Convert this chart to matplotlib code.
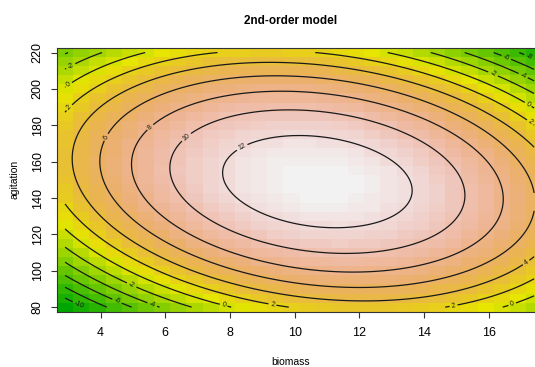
import colorsys
import numpy as np
import matplotlib
matplotlib.use("Agg")
import matplotlib.pyplot as plt
from matplotlib.colors import ListedColormap

plt.rcParams['font.family'] = ['Liberation Sans', 'DejaVu Sans']

# 2nd-order model: z = b0 + b1*x + b2*y + b11*x^2 + b22*y^2 + b12*x*y
b0 = -68.5
b1 = 4.763
b2 = 0.7573
b11 = -0.17
b22 = -0.00227
b12 = -0.00755

# grid of the image (cell centres)
biomass = np.arange(2.9, 17.45, 0.5)
agitation = np.arange(80, 221, 5)

levels = [-10, -8, -6, -4, -2, 0, 2, 4, 6, 8, 10, 12]
xticks = [4, 6, 8, 10, 12, 14, 16]
yticks = [80, 100, 120, 140, 160, 180, 200, 220]


def model(x, y):
    return b0 + b1 * x + b2 * y + b11 * x ** 2 + b22 * y ** 2 + b12 * x * y


def terrain_colors(n):
    # same recipe as R's terrain.colors()
    k = n // 2
    cols = []
    h1, s1, v1 = np.linspace(4 / 12, 2 / 12, k), np.linspace(1, 1, k), np.linspace(0.65, 0.9, k)
    h2 = np.linspace(2 / 12, 0, n - k + 1)[1:]
    s2 = np.linspace(1, 0, n - k + 1)[1:]
    v2 = np.linspace(0.9, 0.95, n - k + 1)[1:]
    for h, s, v in zip(np.r_[h1, h2], np.r_[s1, s2], np.r_[v1, v2]):
        cols.append(colorsys.hsv_to_rgb(h, s, v))
    return ListedColormap(cols)


X, Y = np.meshgrid(biomass, agitation)
Z = model(X, Y)

fig = plt.figure(figsize=(5.35, 3.67), dpi=100)
ax = fig.add_axes([0.1065, 0.1507, 0.907, 0.7185])

dx = 0.25
dy = 2.5
xe = np.r_[biomass - dx, biomass[-1] + dx]
ye = np.r_[agitation - dy, agitation[-1] + dy]
ax.pcolormesh(xe, ye, Z, cmap=terrain_colors(100), shading='flat')

xf = np.linspace(biomass[0], biomass[-1], 200)
yf = np.linspace(agitation[0], agitation[-1], 200)
XF, YF = np.meshgrid(xf, yf)
cs = ax.contour(XF, YF, model(XF, YF), levels=levels, colors='#1a1a1a',
                linewidths=0.9, linestyles='solid')

label_pos = [(3.35, 82), (4.5, 83), (5.6, 81.6), (4.96, 92.2), (7.8, 81), (9.3, 80.5),
             (14.9, 81.6), (16.7, 82.8), (17.1, 106), (17.2, 179.6), (17.2, 191),
             (16.1, 207), (17.0, 205), (16.5, 215.6), (17.2, 216), (3.13, 210.6),
             (3.04, 201.7), (3.1, 188.5), (4.28, 172.4), (5.58, 178), (6.7, 172.4),
             (8.4, 167)]
ax.clabel(cs, fmt='%d', fontsize=5, inline=True, inline_spacing=2, manual=label_pos)

ax.set_xlim(xe[0], xe[-1])
ax.set_ylim(ye[0], ye[-1])
ax.set_xticks(xticks)
ax.set_yticks(yticks)
ax.set_yticklabels([str(t) for t in yticks], rotation=90, va='center')
ax.tick_params(axis='x', length=4, pad=7, labelsize=9, color='#333333')
ax.tick_params(axis='y', length=4, pad=5.5, labelsize=9, color='#333333')
for s in ax.spines.values():
    s.set_linewidth(0.8)
    s.set_color('#333333')

fig.text(0.544, 0.943, "2nd-order model", ha='center', va='center', fontsize=8.5, fontweight='bold')
fig.text(0.544, 0.0136, "biomass", ha='center', va='center', fontsize=7.5)
fig.text(0.028, 0.51, "agitation", ha='center', va='center', fontsize=7.5, rotation=90)

fig.savefig("out.png", dpi=100)
